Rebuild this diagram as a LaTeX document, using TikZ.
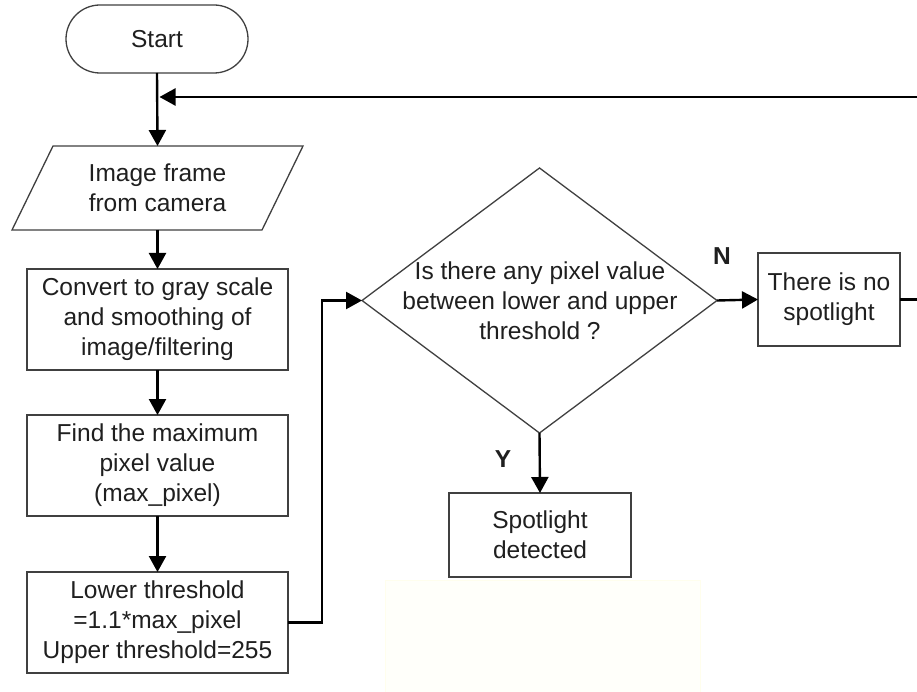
\documentclass[tikz,border=0pt]{standalone}
\usepackage{fontspec}
\setmainfont{Liberation Sans}
\usetikzlibrary{arrows.meta,shapes.geometric,calc}
\begin{document}
\begin{tikzpicture}[x=1pt,y=-1pt,
  every node/.style={font=\fontsize{24.5}{30}\selectfont, text=black!88, align=center, inner sep=0pt, outer sep=0pt},
  boxnode/.style={draw=black!75, line width=1.3pt, rectangle},
  startnode/.style={draw=black!75, line width=1.3pt, rectangle, rounded corners=34pt, minimum width=182pt, minimum height=68pt},
  dianode/.style={draw=black!75, line width=1.3pt, diamond, minimum width=355pt, minimum height=265pt},
  conn/.style={line width=2.4pt, black, -{Triangle[length=16pt,width=17pt]}},
  yn/.style={font=\fontsize{24.5}{30}\selectfont\bfseries}
]
% frame
\fill[white] (0,0) rectangle (917,692);
\useasboundingbox (0,0) rectangle (917,692);
% faint yellow area
\fill[yellow!2, draw=yellow!7, line width=1pt] (385,580) rectangle (700,700);

% nodes
\node[startnode] (start) at (157,39) {Start};
\node[minimum width=200pt, minimum height=84pt] (img) at (157.5,188) {Image frame\\from camera};
\draw[draw=black!75, line width=1.3pt] (53,146) -- (303,146) -- (262,230) -- (12,230) -- cycle;
\node[boxnode, minimum width=261pt, minimum height=101pt] (gray) at (157.5,319.5) {Convert to gray scale\\and smoothing of\\image/filtering};
\node[boxnode, minimum width=261pt, minimum height=101pt] (maxp) at (157.5,465.5) {Find the maximum\\pixel value\\(max\_pixel)};
\node[boxnode, minimum width=261pt, minimum height=101pt] (low) at (157.5,622.5) {Lower threshold\\=1.1*max\_pixel\\Upper threshold=255};
\node[dianode] (q) at (539.5,300.5) {};
\node (qtext) at (540,301) {Is there any pixel value\\between lower and upper\\threshold ?};
\node[boxnode, minimum width=142pt, minimum height=93pt] (ns) at (829,299.5) {There is no\\spotlight};
\node[boxnode, minimum width=182pt, minimum height=84pt] (spot) at (540,535) {Spotlight\\detected};
\node[yn] (nlab) at (722,256) {N};
\node[yn] (ylab) at (503,459) {Y};
\coordinate (jn) at (159.5,97);

% connectors
\draw[conn] (start.south) -- (img.north);
\draw[conn] (img.south) -- (gray.north);
\draw[conn] (gray.south) -- (maxp.north);
\draw[conn] (maxp.south) -- (low.north);
\draw[conn] (low.east) -- ++(34,0) |- (q.west);
\draw[conn] (q.east) -- (ns.west);
\draw[conn] (q.south) -- (spot.north);
\begin{scope}
\clip (0,0) rectangle (917,692);
\draw[conn] (ns.east) -- ++(40,0) |- (jn);
\end{scope}
\end{tikzpicture}
\end{document}
